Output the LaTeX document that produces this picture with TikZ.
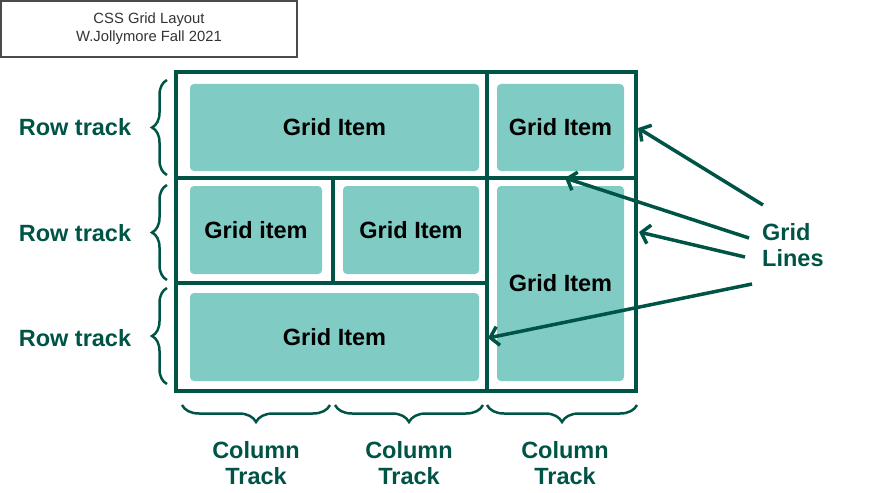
\documentclass[tikz,border=0pt]{standalone}
\usepackage{fontspec}
\setmainfont{Liberation Sans}
\usetikzlibrary{arrows.meta,decorations.pathreplacing}
\definecolor{dkgreen}{HTML}{005446}
\definecolor{itemfill}{HTML}{80CBC4}
\definecolor{titlegray}{HTML}{4A4A4A}
\tikzset{
  itembox/.style={fill=itemfill, rounded corners=4pt, inner sep=0pt, font=\fontsize{23.5}{26}\selectfont\bfseries, text=black},
  gridline/.style={draw=dkgreen, line width=4pt},
  bracestyle/.style={draw=dkgreen, line width=2.5pt, decorate},
  lbl/.style={text=dkgreen, font=\fontsize{23.5}{26}\selectfont\bfseries, inner sep=0pt, align=center},
  arr/.style={draw=dkgreen, line width=3.5pt, -{Straight Barb[length=8pt,width=19pt]}}
}
\begin{document}
\begin{tikzpicture}[x=1pt,y=-1pt]
\useasboundingbox (0,0) rectangle (882,492);
% title
\node[draw=titlegray, line width=1.5pt, minimum width=296pt, minimum height=56pt, inner sep=0pt, align=center, text=black!80, font=\fontsize{14.8}{18}\selectfont] (title) at (149,29) {CSS Grid Layout\\W.Jollymore Fall 2021};
% items
\node[itembox, minimum width=289pt, minimum height=87pt] (i1) at (334.5,127.5) {Grid Item};
\node[itembox, minimum width=127pt, minimum height=87pt] (i2) at (560.5,127.5) {Grid Item};
\node[itembox, minimum width=132pt, minimum height=88pt] (i3) at (256,230) {Grid item};
\node[itembox, minimum width=136pt, minimum height=88pt] (i4) at (411,230) {Grid Item};
\node[itembox, minimum width=127pt, minimum height=195pt] (i5) at (560.5,283.5) {Grid Item};
\node[itembox, minimum width=289pt, minimum height=88pt] (i6) at (334.5,337) {Grid Item};
% grid lines
\draw[gridline] (176,72) rectangle (636,391);
\draw[gridline] (487,72) -- (487,391);
\draw[gridline] (176,178) -- (636,178);
\draw[gridline] (176,283) -- (487,283);
\draw[gridline] (333,178) -- (333,283);
% row braces
\draw[bracestyle, decoration={brace, amplitude=15pt}] (167,175) -- (167,80);
\draw[bracestyle, decoration={brace, amplitude=15pt}] (167,280) -- (167,185);
\draw[bracestyle, decoration={brace, amplitude=15pt}] (167,384) -- (167,288);
% column braces
\draw[bracestyle, decoration={brace, amplitude=17pt}] (330,405) -- (182,405);
\draw[bracestyle, decoration={brace, amplitude=17pt}] (483,405) -- (335,405);
\draw[bracestyle, decoration={brace, amplitude=17pt}] (637,405) -- (487,405);
% labels
\node[lbl] (r1) at (75,127) {Row track};
\node[lbl] (r2) at (75,233) {Row track};
\node[lbl] (r3) at (75,338) {Row track};
\node[lbl] (c1) at (256,463) {Column\\Track};
\node[lbl] (c2) at (409,463) {Column\\Track};
\node[lbl] (c3) at (565,463) {Column\\Track};
\node[lbl, align=left, anchor=west] (gl) at (762,245) {Grid\\Lines};
% arrows
\coordinate (a1s) at (763,205); \coordinate (a1e) at (638,128);
\coordinate (a2s) at (749,238); \coordinate (a2e) at (565,178);
\coordinate (a3s) at (745,257); \coordinate (a3e) at (639,232);
\coordinate (a4s) at (752,284); \coordinate (a4e) at (488,338);
\draw[arr] (a1s) -- (a1e);
\draw[arr] (a2s) -- (a2e);
\draw[arr] (a3s) -- (a3e);
\draw[arr] (a4s) -- (a4e);
\end{tikzpicture}
\end{document}
